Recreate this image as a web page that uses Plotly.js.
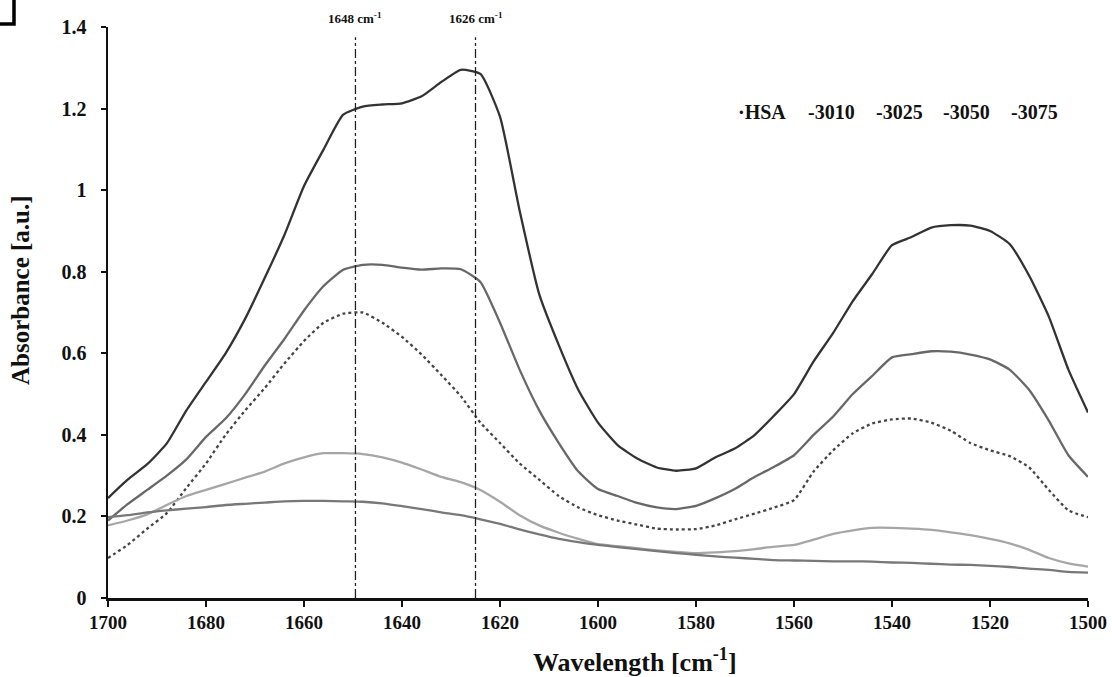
<!DOCTYPE html>
<html>
<head>
<meta charset="utf-8">
<script src="https://cdn.plot.ly/plotly-3.0.1.min.js"></script>
<style>html,body{margin:0;padding:0;background:#fff;}#chart{width:1112px;height:677px;}</style>
</head>
<body>
<div id="chart"></div>
<script>
// Wavenumbers (cm-1), step 4
const wavenumbers = [1700,1696,1692,1688,1684,1680,1676,1672,1668,1664,1660,1656,1652,1648,1644,1640,1636,1632,1628,1624,1620,1616,1612,1608,1604,1600,1596,1592,1588,1584,1580,1576,1572,1568,1564,1560,1556,1552,1548,1544,1540,1536,1532,1528,1524,1520,1516,1512,1508,1504,1500];

const seriesNames = ['HSA','3010','3025','3050','3075'];
const legendPrefix = ['·','-','-','-','-'];

const hsa = [0.245,0.29,0.328,0.379,0.46,0.53,0.60,0.685,0.785,0.89,1.01,1.10,1.185,1.205,1.21,1.213,1.23,1.265,1.295,1.285,1.18,0.95,0.745,0.62,0.51,0.43,0.375,0.342,0.32,0.312,0.318,0.345,0.367,0.40,0.448,0.50,0.58,0.65,0.728,0.795,0.865,0.885,0.908,0.914,0.913,0.90,0.868,0.79,0.69,0.56,0.455];
const s3010 = [0.19,0.23,0.265,0.30,0.34,0.395,0.44,0.50,0.57,0.635,0.705,0.765,0.805,0.817,0.817,0.81,0.805,0.808,0.806,0.775,0.675,0.56,0.46,0.38,0.31,0.267,0.25,0.233,0.222,0.218,0.226,0.245,0.268,0.297,0.322,0.35,0.40,0.445,0.50,0.545,0.59,0.598,0.605,0.604,0.597,0.585,0.56,0.51,0.435,0.35,0.297];
const s3025 = [0.098,0.13,0.17,0.208,0.27,0.33,0.40,0.46,0.515,0.575,0.63,0.675,0.697,0.70,0.675,0.64,0.597,0.547,0.495,0.43,0.38,0.33,0.29,0.25,0.222,0.203,0.19,0.18,0.17,0.168,0.169,0.178,0.193,0.207,0.222,0.24,0.31,0.362,0.404,0.428,0.438,0.44,0.43,0.41,0.38,0.362,0.348,0.32,0.265,0.215,0.198];
const s3050 = [0.178,0.19,0.205,0.228,0.25,0.265,0.28,0.295,0.31,0.33,0.345,0.355,0.355,0.353,0.345,0.332,0.315,0.297,0.284,0.265,0.236,0.203,0.178,0.16,0.145,0.132,0.127,0.122,0.117,0.113,0.11,0.112,0.115,0.12,0.126,0.13,0.143,0.157,0.166,0.172,0.172,0.17,0.167,0.161,0.154,0.145,0.134,0.118,0.098,0.085,0.077];
const s3075 = [0.198,0.203,0.21,0.215,0.219,0.223,0.228,0.231,0.234,0.237,0.238,0.238,0.237,0.236,0.232,0.225,0.218,0.21,0.203,0.193,0.182,0.168,0.156,0.145,0.137,0.13,0.125,0.12,0.115,0.11,0.106,0.102,0.099,0.096,0.093,0.092,0.091,0.09,0.09,0.089,0.087,0.086,0.084,0.082,0.081,0.079,0.076,0.072,0.069,0.064,0.062];

const seriesValues = [hsa, s3010, s3025, s3050, s3075];
const seriesColors = ['#333333','#686868','#454545','#a6a6a6','#787878'];
const seriesDash = ['solid','solid','dot','solid','solid'];

// Reference lines
const refLinePos = [1649.5, 1625];
const refLineLabels = ['1648 cm<sup>-1</sup>','1626 cm<sup>-1</sup>'];

const xTicks = [1700,1680,1660,1640,1620,1600,1580,1560,1540,1520,1500];
const yTicks = [0,0.2,0.4,0.6,0.8,1,1.2,1.4];

const FONT = 'Liberation Serif, Times New Roman, serif';

const traces = seriesValues.map((vals, i) => ({
  x: wavenumbers, y: vals, type: 'scatter', mode: 'lines', name: seriesNames[i],
  line: {color: seriesColors[i], width: 2.3, dash: seriesDash[i], shape: 'spline', smoothing: 0.5},
  showlegend: false, hoverinfo: 'x+y+name'
}));

// Plot area in pixels
const L = 108, R = 1088, T = 27, B = 598;
const W = 1112, H = 677;
const px2paperX = p => (p - L) / (R - L);
const px2paperY = p => (B - p) / (B - T);

const shapes = refLinePos.map(xp => ({
  type: 'line', xref: 'x', yref: 'y', x0: xp, x1: xp, y0: 0, y1: 1.375,
  line: {color: '#222', width: 1.3, dash: 'dashdot'}
}));
// Panel-letter bracket fragment at top-left corner
shapes.push({type: 'path', xref: 'paper', yref: 'paper',
  path: `M ${px2paperX(0)} ${px2paperY(24)} L ${px2paperX(14)} ${px2paperY(24)} L ${px2paperX(14)} ${px2paperY(0)}`,
  line: {color: '#000', width: 3.5}});

const annotations = [];
refLinePos.forEach((xp, i) => annotations.push({
  xref: 'x', yref: 'paper', x: xp, y: px2paperY(18), text: refLineLabels[i], showarrow: false,
  font: {family: FONT, size: 13, color: '#111', weight: 'bold'}, xanchor: 'center', yanchor: 'middle'
}));
const legendX = [736, 806, 874, 941, 1009];
seriesNames.forEach((n, i) => annotations.push({
  xref: 'paper', yref: 'paper', x: px2paperX(legendX[i]), y: px2paperY(112),
  text: legendPrefix[i] + n, showarrow: false, xanchor: 'left', yanchor: 'middle',
  font: {family: FONT, size: 20, color: '#111', weight: 'bold'}
}));
annotations.push({xref: 'paper', yref: 'paper', x: px2paperX(635), y: px2paperY(660),
  text: 'Wavelength [cm<sup>-1</sup>]', showarrow: false, xanchor: 'center', yanchor: 'middle',
  font: {family: FONT, size: 26, color: '#111', weight: 'bold'}});
annotations.push({xref: 'paper', yref: 'paper', x: px2paperX(20), y: px2paperY(290),
  text: 'Absorbance [a.u.]', showarrow: false, textangle: -90, xanchor: 'center', yanchor: 'middle',
  font: {family: FONT, size: 25, color: '#111', weight: 'bold'}});

const layout = {
  width: W, height: H,
  margin: {l: L, r: W - R, t: T, b: H - B, pad: 0},
  paper_bgcolor: '#fff', plot_bgcolor: '#fff',
  showlegend: false,
  xaxis: {range: [1700, 1500], tickvals: xTicks, ticks: 'outside', ticklen: 6, tickwidth: 2, tickcolor: '#111',
    showline: true, linecolor: '#111', linewidth: 2.5, showgrid: false, zeroline: false,
    tickfont: {family: FONT, size: 19, color: '#111', weight: 'bold'}},
  yaxis: {range: [0, 1.4], tickvals: yTicks, ticks: 'outside', ticklen: 5, tickwidth: 2, tickcolor: '#111',
    showline: true, linecolor: '#111', linewidth: 2.5, showgrid: false, zeroline: false,
    tickfont: {family: FONT, size: 20, color: '#111', weight: 'bold'}, ticklabelstandoff: 10},
  shapes: shapes, annotations: annotations
};

Plotly.newPlot('chart', traces, layout, {displayModeBar: false, staticPlot: true});
</script>
</body>
</html>
